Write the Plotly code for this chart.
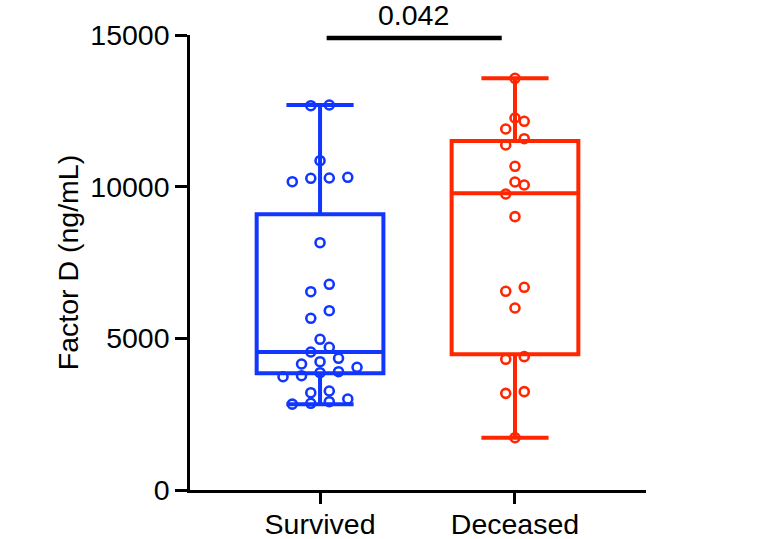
import plotly.graph_objects as go

# ---- data ----
groups = ["Survived", "Deceased"]
group_pos = [0, 1]
colors = ["#1036FF", "#FF2600"]

survived_values = [12692, 12669, 10856, 10309, 10286, 10276, 10164, 8153, 6781, 6537,
                   5911, 5660, 4968, 4704, 4549, 4342, 4230, 4154, 4045, 3900,
                   3867, 3768, 3735, 3264, 3208, 3000, 2911, 2858, 2830]
deceased_values = [13572, 12264, 12155, 11901, 11582, 11374, 10671, 10154, 10055, 9758,
                   9011, 6682, 6550, 6000, 4396, 4308, 3242, 3187, 1725]

q1_values = [3847, 4473]
median_values = [4549, 9780]
q3_values = [9089, 11505]

p_value_text = "0.042"
y_ticks = [0, 5000, 10000, 15000]
y_tick_labels = ["0", "5000", "10000", "15000"]
y_title = "Factor D (ng/mL)"

# ---- layout constants ----
FONT = "Liberation Sans, Arial, sans-serif"
FS = 28.5
W, H = 782, 539
ML, MR, MT, MB = 190, 136, 35, 49
Y_RANGE = [0, 15000]
X_RANGE = [-0.667, 1.672]
plot_h = H - MT - MB
plot_w = W - ML - MR
val_per_px = (Y_RANGE[1] - Y_RANGE[0]) / plot_h
x_per_px = (X_RANGE[1] - X_RANGE[0]) / plot_w


def swarm_offsets(values, row_px=10.0, spacing_px=18.5):
    """Group nearby values into rows and spread each row horizontally."""
    order = sorted(range(len(values)), key=lambda i: values[i])
    offsets = [0.0] * len(values)
    thresh = row_px * val_per_px
    i = 0
    while i < len(order):
        start = values[order[i]]
        row = [order[i]]
        j = i + 1
        while j < len(order) and values[order[j]] - start < thresh:
            row.append(order[j])
            j += 1
        n = len(row)
        for k, idx in enumerate(row):
            offsets[idx] = (k - (n - 1) / 2) * spacing_px * x_per_px
        i = j
    return offsets


fig = go.Figure()
all_values = [survived_values, deceased_values]
for gi, (vals, pos, col) in enumerate(zip(all_values, group_pos, colors)):
    fig.add_trace(go.Box(
        x=[pos],
        q1=[q1_values[gi]],
        median=[median_values[gi]],
        q3=[q3_values[gi]],
        lowerfence=[min(vals)],
        upperfence=[max(vals)],
        width=0.65,
        whiskerwidth=0.53,
        line=dict(color=col, width=4),
        fillcolor="rgba(0,0,0,0)",
        boxpoints=False,
        showlegend=False,
        hoverinfo="skip",
    ))
    offs = swarm_offsets(vals)
    fig.add_trace(go.Scatter(
        x=[pos + o for o in offs],
        y=vals,
        mode="markers",
        marker=dict(symbol="circle-open", size=9, color=col, line=dict(width=2.6, color=col)),
        showlegend=False,
        cliponaxis=False,
    ))

# significance bar
bar_y = 14900
fig.add_shape(type="line", xref="x", yref="y", x0=0.034, x1=0.932, y0=bar_y, y1=bar_y,
              line=dict(color="black", width=4.5))
fig.add_annotation(x=0.48, y=bar_y, xref="x", yref="y", text=p_value_text, showarrow=False,
                   yanchor="bottom", yshift=9, height=26, valign="middle", borderpad=0,
                   font=dict(family=FONT, size=FS, color="black"))

fig.update_layout(
    width=W, height=H,
    margin=dict(l=ML, r=MR, t=MT, b=MB),
    plot_bgcolor="white", paper_bgcolor="white",
    font=dict(family=FONT, size=FS, color="black"),
    xaxis=dict(range=X_RANGE, tickvals=group_pos, ticktext=groups, showline=True,
               linecolor="black", linewidth=2.5, ticks="outside", ticklen=11, tickwidth=2.5,
               tickcolor="black", showgrid=False, zeroline=False, automargin=False,
               ticklabelstandoff=-4,
               tickfont=dict(family=FONT, size=FS, color="black")),
    yaxis=dict(range=Y_RANGE, tickvals=y_ticks, ticktext=y_tick_labels, showline=True,
               linecolor="black", linewidth=2.5, ticks="outside", ticklen=12, tickwidth=2.5,
               tickcolor="black", showgrid=False, zeroline=False, automargin=False,
               tickfont=dict(family=FONT, size=FS, color="black"),
               title=dict(text=y_title, font=dict(family=FONT, size=FS, color="black"), standoff=4)),
)

fig.write_html("out.html", config={"displayModeBar": False},
               post_script="document.body.style.margin='0';document.body.style.overflow='hidden';")
